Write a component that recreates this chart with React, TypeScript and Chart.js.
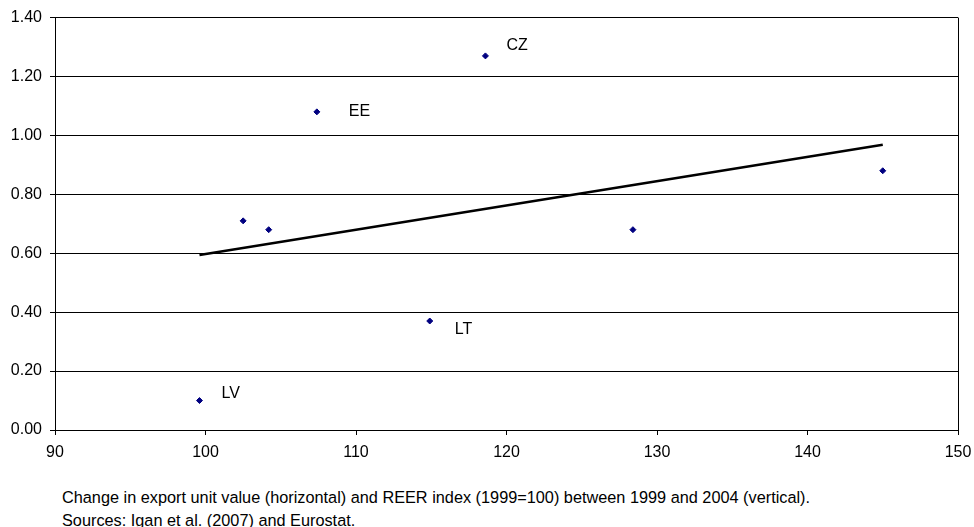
import React, { useEffect, useRef } from 'react';
import { Chart, registerables } from 'chart.js';

Chart.register(...registerables);

// Data
const countryLabels = ['LV', 'CZ', 'EE', '', '', 'LT', '', ''];
const xValues = [99.6, 118.6, 107.4, 102.5, 104.2, 114.9, 128.4, 145.0];
const yValues = [0.1, 1.27, 1.08, 0.71, 0.68, 0.37, 0.68, 0.88];
const trendX = [99.6, 145.0];
const trendY = [0.594, 0.968];
const xTicks = [90, 100, 110, 120, 130, 140, 150];
const yTicks = [0, 0.2, 0.4, 0.6, 0.8, 1.0, 1.2, 1.4];
const captionLines = [
  'Change in export unit value (horizontal) and REER index (1999=100) between 1999 and 2004 (vertical).',
  'Sources: Igan et al. (2007) and Eurostat.',
];

const FONT = '"Liberation Sans", Arial, Helvetica, sans-serif';

const labelOffsets: Record<string, [number, number]> = {
  LV: [22, -7],
  CZ: [21, -10],
  EE: [32, 0],
  LT: [25, 9],
};

const pointLabelPlugin = {
  id: 'pointLabels',
  afterDatasetsDraw(chart: any) {
    const meta = chart.getDatasetMeta(0);
    const ctx = chart.ctx;
    ctx.save();
    ctx.font = `16px ${FONT}`;
    ctx.fillStyle = '#000';
    ctx.textAlign = 'left';
    ctx.textBaseline = 'middle';
    meta.data.forEach((el: any, i: number) => {
      const lbl = countryLabels[i];
      if (!lbl) return;
      const off = labelOffsets[lbl] || [20, 0];
      ctx.fillText(lbl, el.x + off[0], el.y + off[1]);
    });
    ctx.restore();
  },
};

const rightBorderPlugin = {
  id: 'rightBorder',
  afterDraw(chart: any) {
    const { ctx, chartArea } = chart;
    ctx.save();
    ctx.strokeStyle = '#000';
    ctx.lineWidth = 1;
    ctx.beginPath();
    const x = Math.round(chartArea.right) + 0.5;
    ctx.moveTo(x, chartArea.top);
    ctx.lineTo(x, chartArea.bottom + 5);
    ctx.stroke();
    ctx.restore();
  },
};

export default function App() {
  const ref = useRef<HTMLCanvasElement>(null);

  useEffect(() => {
    document.body.style.margin = '0';
    const chart = new Chart(ref.current as HTMLCanvasElement, {
      type: 'scatter',
      data: {
        datasets: [
          {
            label: 'Countries',
            data: xValues.map((x, i) => ({ x, y: yValues[i] })),
            backgroundColor: '#000080',
            borderColor: '#000080',
            borderWidth: 1,
            pointStyle: 'rectRot',
            pointRadius: 3,
            showLine: false,
          },
          {
            label: 'Trend',
            data: trendX.map((x, i) => ({ x, y: trendY[i] })),
            borderColor: '#000',
            borderWidth: 2.5,
            pointRadius: 0,
            showLine: true,
            fill: false,
          },
        ],
      },
      options: {
        responsive: false,
        animation: false,
        events: [],
        layout: { padding: { top: 17, right: 16, left: 0, bottom: 0 } },
        plugins: {
          legend: { display: false },
          tooltip: { enabled: false },
          title: { display: false },
        },
        scales: {
          x: {
            type: 'linear',
            min: 90,
            max: 150,
            afterBuildTicks: (scale: any) => {
              scale.ticks = xTicks.map((v) => ({ value: v }));
            },
            afterFit: (scale: any) => {
              scale.height = 40;
              scale.paddingLeft = 0;
              scale.paddingRight = 0;
            },
            grid: {
              display: true,
              drawOnChartArea: false,
              drawTicks: true,
              tickLength: 5,
              color: '#000',
              lineWidth: 1,
            },
            border: { display: true, color: '#000', width: 1 },
            ticks: {
              color: '#000',
              font: { family: FONT, size: 16 },
              padding: 8,
              maxRotation: 0,
              callback: (v: any) => String(v),
            },
          },
          y: {
            type: 'linear',
            min: 0,
            max: 1.4,
            afterBuildTicks: (scale: any) => {
              scale.ticks = yTicks.map((v) => ({ value: v }));
            },
            afterFit: (scale: any) => {
              scale.width = 55;
            },
            grid: {
              display: true,
              drawOnChartArea: true,
              drawTicks: true,
              tickLength: 5,
              color: '#000',
              lineWidth: 1,
            },
            border: { display: true, color: '#000', width: 1 },
            ticks: {
              color: '#000',
              font: { family: FONT, size: 16 },
              padding: 8,
              callback: (v: any) => Number(v).toFixed(2),
            },
          },
        },
      },
      plugins: [pointLabelPlugin, rightBorderPlugin],
    });
    return () => chart.destroy();
  }, []);

  return (
    <div
      style={{
        position: 'relative',
        width: 974,
        height: 527,
        background: '#fff',
        overflow: 'hidden',
      }}
    >
      <canvas
        ref={ref}
        width={974}
        height={470}
        style={{ position: 'absolute', left: 0, top: 0, display: 'block' }}
      />
      <div
        style={{
          position: 'absolute',
          left: 62,
          top: 486,
          fontFamily: FONT,
          fontSize: 16.3,
          lineHeight: '23px',
          color: '#000',
          whiteSpace: 'nowrap',
        }}
      >
        {captionLines.map((t) => (
          <div key={t}>{t}</div>
        ))}
      </div>
    </div>
  );
}
